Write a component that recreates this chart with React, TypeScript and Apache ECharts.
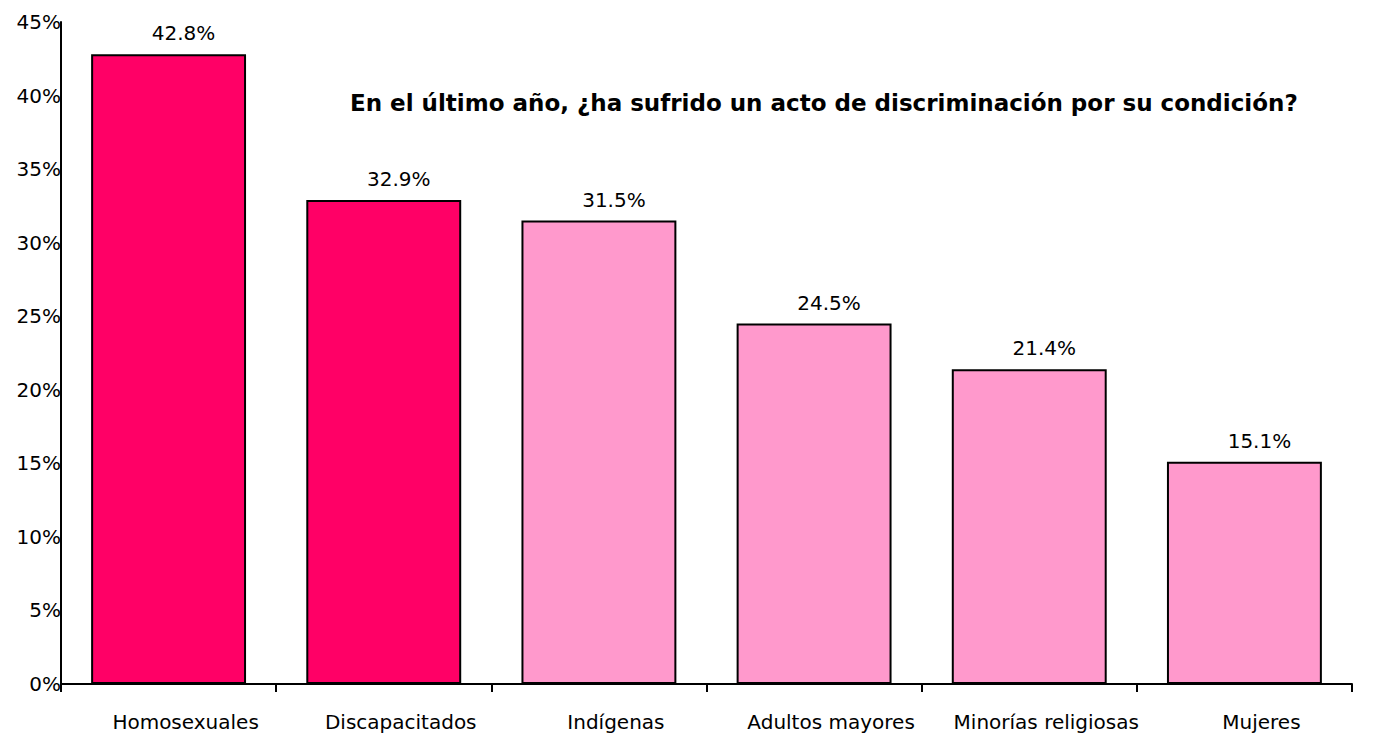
import React, { useEffect, useRef } from "react";
import * as echarts from "echarts";

const categories = ["Homosexuales", "Discapacitados", "Indígenas", "Adultos mayores", "Minorías religiosas", "Mujeres"];
const values = [42.8, 32.9, 31.5, 24.5, 21.4, 15.1];
const barColors = ["#FF0066", "#FF0066", "#FF99CC", "#FF99CC", "#FF99CC", "#FF99CC"];
const titleText = "En el último año, ¿ha sufrido un acto de discriminación por su condición?";

const FONT = "DejaVu Sans, Liberation Sans, Arial, sans-serif";

export default function App() {
  const ref = useRef<HTMLDivElement>(null);
  useEffect(() => {
    if (!ref.current) return;
    const chart = echarts.init(ref.current, undefined, { renderer: "svg" });
    chart.setOption({
      animation: false,
      backgroundColor: "#ffffff",
      textStyle: { fontFamily: FONT },
      title: {
        text: titleText,
        left: 345,
        top: 86,
        textStyle: { fontSize: 23, fontWeight: "bold", color: "#000", fontFamily: FONT },
      },
      grid: { left: 61, right: 30, top: 22, bottom: 51, containLabel: false },
      xAxis: {
        type: "category",
        data: categories,
        axisLine: { lineStyle: { color: "#000", width: 2 } },
        axisTick: { show: true, length: 8, lineStyle: { color: "#000", width: 2 } },
        axisLabel: { color: "#000", fontSize: 20, margin: 28, interval: 0, fontFamily: FONT, padding: [0, 0, 0, 34] },
      },
      yAxis: {
        type: "value",
        min: 0,
        max: 45,
        interval: 5,
        axisLine: { show: true, lineStyle: { color: "#000", width: 2 } },
        axisTick: { show: false },
        splitLine: { show: false },
        axisLabel: { color: "#000", fontSize: 20, margin: 0, formatter: "{value}%", fontFamily: FONT, padding: [4, 0, 0, 0] },
      },
      series: [
        {
          type: "bar",
          data: values.map((v, i) => ({ value: v, itemStyle: { color: barColors[i] } })),
          barWidth: "72%",
          itemStyle: { borderColor: "#000", borderWidth: 2 },
          label: {
            show: true,
            position: "top",
            distance: 11,
            offset: [15, 0],
            color: "#000",
            fontSize: 20,
            fontFamily: FONT,
            formatter: (p: any) => p.value.toFixed(1) + "%",
          },
        },
      ],
    });
    return () => chart.dispose();
  }, []);
  return <div ref={ref} style={{ width: 1382, height: 735, position: "absolute", left: 0, top: 0 }} />;
}
